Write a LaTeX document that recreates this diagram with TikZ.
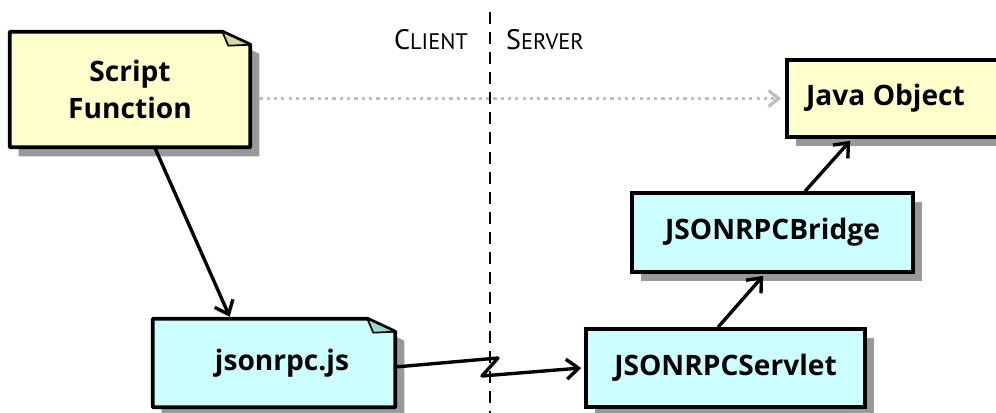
\documentclass[tikz,border=0pt]{standalone}
\usepackage{fontspec}
\setmainfont{Open Sans}
\newfontfamily\sidefont{PT Sans}
\usetikzlibrary{arrows.meta,positioning,calc,backgrounds,shadows}
\definecolor{notey}{RGB}{255,255,204}
\definecolor{notec}{RGB}{204,255,255}
\definecolor{flapy}{RGB}{214,214,160}
\definecolor{flapc}{RGB}{150,214,214}
\definecolor{shadowcol}{RGB}{153,153,153}
\definecolor{dotcol}{RGB}{190,190,190}

\begin{document}
\begin{tikzpicture}[
    x=0.025cm, y=-0.025cm,
    >={Straight Barb[length=3mm, width=5mm]},
    note/.style={rectangle, inner sep=0pt, align=center, font=\fontsize{20}{26}\selectfont\bfseries},
    unit/.style={rectangle, inner sep=0pt, align=center, font=\fontsize{20}{24}\selectfont\bfseries, draw, line width=2.6pt,
        drop shadow={shadow xshift=0.225cm, shadow yshift=-0.225cm, fill=shadowcol, opacity=1}},
    link/.style={->, line width=2.4pt},
    side/.style={font=\sidefont\fontsize{16}{19}\selectfont},
]
\useasboundingbox (0,0) rectangle (996,413);

% client / server split
\coordinate (dtop) at (490,12);
\coordinate (dbot) at (490,413);
\draw[line width=1.4pt, dash pattern=on 8.5pt off 5.7pt] (dtop) -- (dbot);
\node[side] (client) at (431,40) {{\fontsize{20}{19}\selectfont C}LIENT};
\node[side] (server) at (545,40) {{\fontsize{20}{19}\selectfont S}ERVER};

% notes (script side)
\node[note, minimum width=6cm, minimum height=2.875cm] (sf) at (130,89.5) {Script\\Function};
\node[note, minimum width=6.05cm, minimum height=2.2cm] (js) at (274,363) {\hspace*{0.4cm}jsonrpc.js};

\begin{scope}[on background layer]
\foreach \n/\c/\f in {sf/notey/flapy, js/notec/flapc}{
  \fill[shadowcol] ([shift={(9,9)}]\n.south west) -- ([shift={(9,9)}]\n.north west) -- ([shift={(-19,9)}]\n.north east)
      -- ([shift={(9,22)}]\n.north east) -- ([shift={(9,9)}]\n.south east) -- cycle;
  \filldraw[fill=\c, line width=2.6pt, line join=round] (\n.south west) -- (\n.north west) -- ([shift={(-28,0)}]\n.north east)
      -- ([shift={(0,13)}]\n.north east) -- (\n.south east) -- cycle;
  \filldraw[fill=\f, line width=1.2pt, line join=round] ([shift={(-28,0)}]\n.north east) -- ([shift={(-22,14)}]\n.north east)
      -- ([shift={(0,13)}]\n.north east) -- cycle;
}
\end{scope}

% java side
\node[unit, fill=notey, minimum width=5.325cm, minimum height=1.925cm] (jo) at (893.5,98.5) {\hspace*{-0.4cm}Java Object};
\node[unit, fill=notec, minimum width=7.025cm, minimum height=1.975cm] (br) at (772.5,232.5) {JSONRPCBridge};
\node[unit, fill=notec, minimum width=6.975cm, minimum height=1.95cm] (sv) at (725.5,368) {JSONRPCServlet};

% connectors
\draw[dotcol, line width=2.3pt, dash pattern=on 2.3pt off 2.9pt, -{Straight Barb[length=2.5mm, width=4mm]}]
    ([shift={(9,0)}]sf.east |- jo.west) -- ([shift={(-4,0)}]jo.west);
\draw[link] ([shift={(145,0)}]sf.south west) -- ([shift={(77,-2)}]js.north west);
\coordinate (z1) at (498,358);
\coordinate (z2) at (482,376);
\draw[link, line join=round] ([shift={(0,4)}]js.east) -- (z1) -- (z2) -- ([shift={(-3,0)}]sv.west);
\draw[link] ([shift={(134,0)}]sv.north west) -- ([shift={(133,2)}]br.south west);
\draw[link] ([shift={(175,0)}]br.north west) -- ([shift={(65,2)}]jo.south west);

\end{tikzpicture}
\end{document}
